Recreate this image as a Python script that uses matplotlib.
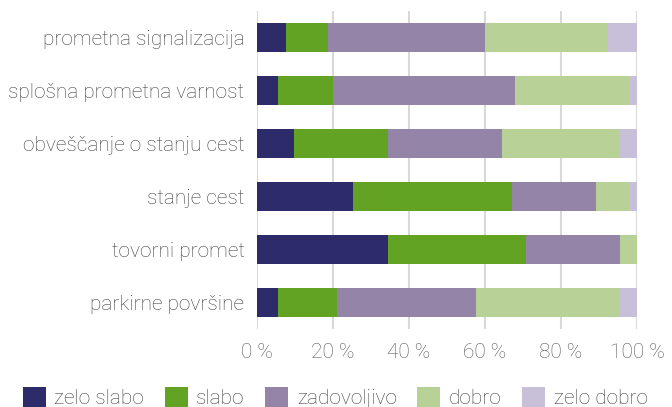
import numpy as np
import matplotlib
matplotlib.use("Agg")
import matplotlib.pyplot as plt

# -----------------------
# Data (shares in %)
# -----------------------
categories = ["prometna signalizacija", "splošna prometna varnost", "obveščanje o stanju cest",
              "stanje cest", "tovorni promet", "parkirne površine"]
series_names = ["zelo slabo", "slabo", "zadovoljivo", "dobro", "zelo dobro"]
zelo_slabo  = [7.7, 5.6, 9.8, 25.3, 34.6, 5.6]
slabo       = [11.0, 14.3, 24.8, 41.7, 36.2, 15.5]
zadovoljivo = [41.2, 48.0, 29.9, 22.3, 24.8, 36.6]
dobro       = [32.4, 29.9, 31.1, 8.8, 4.4, 37.9]
zelo_dobro  = [7.7, 2.2, 4.4, 1.9, 0.0, 4.4]
colors = ["#2e2b6a", "#62a323", "#9484a8", "#b8d197", "#c8c0d8"]
xticks = [0, 20, 40, 60, 80, 100]

plt.rcParams['font.family'] = ['Roboto', 'DejaVu Sans']
FS = 15

fig = plt.figure(figsize=(6.72, 4.07), dpi=100)
ax = fig.add_axes([257/672, 1 - 329/407, 380/672, 318/407])

y = np.arange(len(categories))
left = np.zeros(len(categories))
for name, vals, c in zip(series_names, [zelo_slabo, slabo, zadovoljivo, dobro, zelo_dobro], colors):
    ax.barh(y, vals, left=left, height=0.55, color=c, label=name, zorder=3)
    left += np.array(vals)

ax.set_xlim(0, 100)
ax.set_ylim(len(categories) - 0.5, -0.5)
ax.set_yticks(y)
ax.set_yticklabels(categories, fontsize=FS, color="#404040", fontweight="light")
ax.set_xticks(xticks)
ax.set_xticklabels([f"{t} %" for t in xticks], fontsize=FS, color="#595959", fontweight="light")
ax.tick_params(length=0)
ax.tick_params(axis="x", pad=10)
ax.tick_params(axis="y", pad=9)
ax.grid(axis="x", color="#d9d9d9", linewidth=1.5, zorder=0)
for s in ax.spines.values():
    s.set_visible(False)

leg = fig.legend(loc="upper left", bbox_to_anchor=(23/672, 1 - 387/407), ncol=5, frameon=False,
                 fontsize=FS, handlelength=1.1, handleheight=1.1, handletextpad=0.4,
                 columnspacing=1.0, borderaxespad=0, borderpad=0)
for t in leg.get_texts():
    t.set_color("#404040")
    t.set_fontweight("light")

fig.savefig("out.png", dpi=100)
